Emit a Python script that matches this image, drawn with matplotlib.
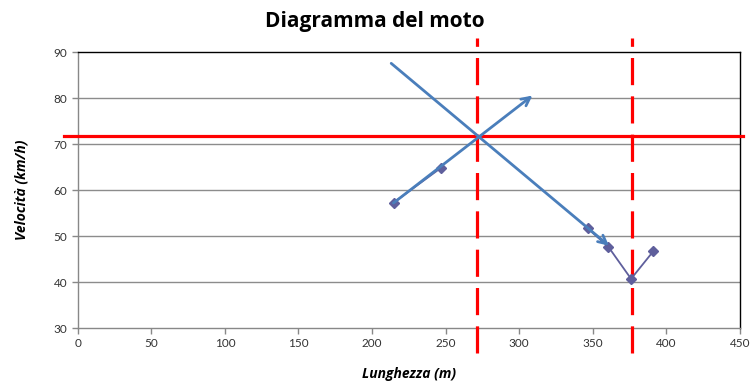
import matplotlib.pyplot as plt

# data
dots_a_x = [214.7, 246.6]
dots_a_y = [57.3, 64.8]
dots_b_x = [346.4, 360.5, 376.0, 391.1]
dots_b_y = [51.7, 47.7, 40.7, 46.7]

arrow_down = [(213.0, 87.6), (361.0, 47.9)]
arrow_up = [(214.5, 57.2), (309.0, 80.6)]

v_limit = 71.7
x_limits = [271.2, 376.3]

x_ticks = [0, 50, 100, 150, 200, 250, 300, 350, 400, 450]
y_ticks = [30, 40, 50, 60, 70, 80, 90]

plt.rcParams['font.family'] = ['Lato', 'DejaVu Sans']

fig = plt.figure(figsize=(7.54, 3.83), dpi=100)
ax = fig.add_axes([0.1031, 0.1436, 0.8783, 0.7198])
ax.set_xlim(0, 450)
ax.set_ylim(30, 90)

# grid
for y in y_ticks[1:-1]:
    ax.axhline(y, color='#8c8c8c', lw=1, zorder=1)

# red reference lines
ax.plot([-9, 452], [v_limit, v_limit], color='#ff0000', lw=2.3, zorder=3, clip_on=False)
for xv in x_limits:
    ax.plot([xv, xv], [24.6, 93.2], color='#ff0000', lw=2.3,
            linestyle=(0, (8.5, 3.5)), zorder=3, clip_on=False)

# purple series
purple = '#5f5f9c'
ax.plot(dots_a_x, dots_a_y, color=purple, lw=1.3, marker='D', ms=5.5, zorder=4)
ax.plot(dots_b_x, dots_b_y, color=purple, lw=1.3, marker='D', ms=5.5, zorder=4)

# blue arrows
blue = '#4a7ebb'
for (p0, p1) in [arrow_down, arrow_up]:
    ax.annotate('', xy=p1, xytext=p0,
                arrowprops=dict(arrowstyle='->,head_length=0.6,head_width=0.3',
                                color=blue, lw=2.0, shrinkA=0, shrinkB=0),
                zorder=5)

ax.set_xticks(x_ticks)
ax.set_yticks(y_ticks)
ax.tick_params(labelsize=8.5, colors='#333333', length=4, width=1)
ax.tick_params(axis='both', color='#888888')

ax.spines['left'].set_color('#888888')
ax.spines['bottom'].set_color('#888888')
ax.spines['top'].set_color('#000000')
ax.spines['right'].set_color('#000000')
for s in ax.spines.values():
    s.set_linewidth(1)

fig.text(0.497, 0.945, 'Diagramma del moto', ha='center', va='center',
         fontsize=15, fontweight='bold', family=['Open Sans', 'DejaVu Sans'])
ax.set_xlabel('Lunghezza (m)', fontsize=10, fontweight='bold', style='italic',
              labelpad=13, family=['Open Sans', 'DejaVu Sans'])
ax.set_ylabel('Velocità (km/h)', fontsize=10, fontweight='bold', style='italic',
              labelpad=18, family=['Open Sans', 'DejaVu Sans'])

fig.savefig('out.png', dpi=100)
